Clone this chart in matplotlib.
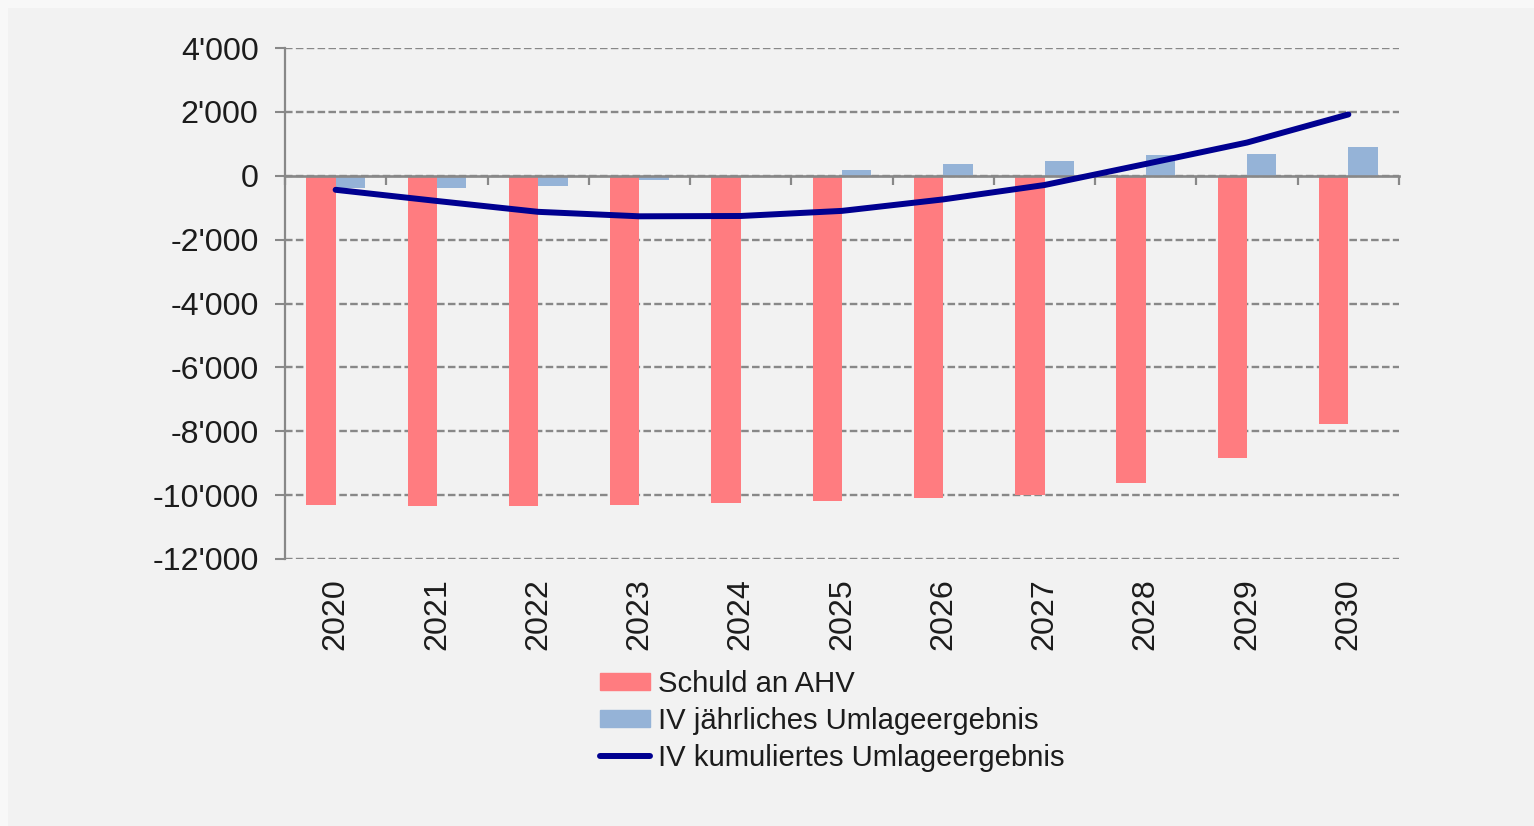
import matplotlib.pyplot as plt
import matplotlib.patches as mpatches
from matplotlib.lines import Line2D
from matplotlib.ticker import FuncFormatter, FixedLocator
import numpy as np

plt.rcParams["font.family"] = ["Liberation Sans", "DejaVu Sans"]

years = ["2020", "2021", "2022", "2023", "2024", "2025",
         "2026", "2027", "2028", "2029", "2030"]
schuld_ahv = [-10300, -10340, -10340, -10300, -10250, -10190,
              -10090, -10000, -9620, -8830, -7770]
iv_jaehrlich = [-370, -370, -320, -120, 0, 170, 360, 450, 650, 680, 890]
iv_kumuliert = [-440, -790, -1130, -1270, -1260, -1100,
                -740, -290, 370, 1040, 1920]

RED = "#FF7C80"
BLUE = "#95B3D7"
NAVY = "#000090"
GREY = "#888888"
TXT = "#1C1C1C"

fig = plt.figure(figsize=(15.34, 8.26), dpi=100, facecolor="#F8F8F8")
fig.patches.append(mpatches.Rectangle((8 / 1534, 0), 1, 1 - 8 / 826,
                                      transform=fig.transFigure,
                                      facecolor="#F2F2F2", edgecolor="none",
                                      zorder=-10))

ax = fig.add_axes([285 / 1534, 1 - 559 / 826, (1399 - 285) / 1534, (559 - 48) / 826])
ax.set_facecolor("none")

x = np.arange(len(years))
w = 0.29
ax.bar(x - w / 2, schuld_ahv, width=w, color=RED, zorder=2)
ax.bar(x + w / 2, iv_jaehrlich, width=w, color=BLUE, zorder=2)
ax.plot(x, iv_kumuliert, color=NAVY, lw=4.3, solid_capstyle="round",
        solid_joinstyle="round", zorder=4)

ax.set_xlim(-0.5, len(years) - 0.5)
ax.set_ylim(-12000, 4000)
ax.set_yticks(np.arange(-12000, 4001, 2000))
ax.yaxis.set_major_formatter(FuncFormatter(lambda v, _: f"{v:,.0f}".replace(",", "'")))
ax.tick_params(axis="y", direction="out", length=7, width=1.5, color=GREY,
               labelsize=23.2, labelcolor=TXT, pad=12)

ax.set_axisbelow(True)
ax.yaxis.grid(True, color=GREY, lw=1.7, dashes=(3.2, 1.4))

for side in ("top", "right"):
    ax.spines[side].set_visible(False)
ax.spines["left"].set_color(GREY)
ax.spines["left"].set_linewidth(1.6)
ax.spines["bottom"].set_position(("data", 0))
ax.spines["bottom"].set_color(GREY)
ax.spines["bottom"].set_linewidth(1.9)
ax.spines["bottom"].set_zorder(3)

# category boundary ticks on the zero line, year labels along the bottom
ax.xaxis.set_major_locator(FixedLocator(np.arange(-0.5, len(years), 1.0)))
ax.tick_params(axis="x", direction="out", length=6.5, width=1.6, color=GREY,
               labelbottom=False)

sec = ax.secondary_xaxis(0)
sec.set_xticks(x, labels=years)
sec.tick_params(length=0, pad=14, labelsize=23.2, labelcolor=TXT, labelrotation=90)
sec.spines["bottom"].set_visible(False)

handles = [
    mpatches.Patch(color=RED, label="Schuld an AHV"),
    mpatches.Patch(color=BLUE, label="IV jährliches Umlageergebnis"),
    Line2D([0], [0], color=NAVY, lw=4.3, solid_capstyle="round",
           label="IV kumuliertes Umlageergebnis"),
]
fig.legend(handles=handles, loc="upper left",
           bbox_to_anchor=(600 / 1534, 1 - 670 / 826),
           frameon=False, fontsize=21.1, labelcolor=TXT,
           handlelength=1.72, handleheight=0.55, handletextpad=0.25,
           labelspacing=0.3, borderpad=0, borderaxespad=0)

fig.savefig("out.png", dpi=100, facecolor=fig.get_facecolor())
